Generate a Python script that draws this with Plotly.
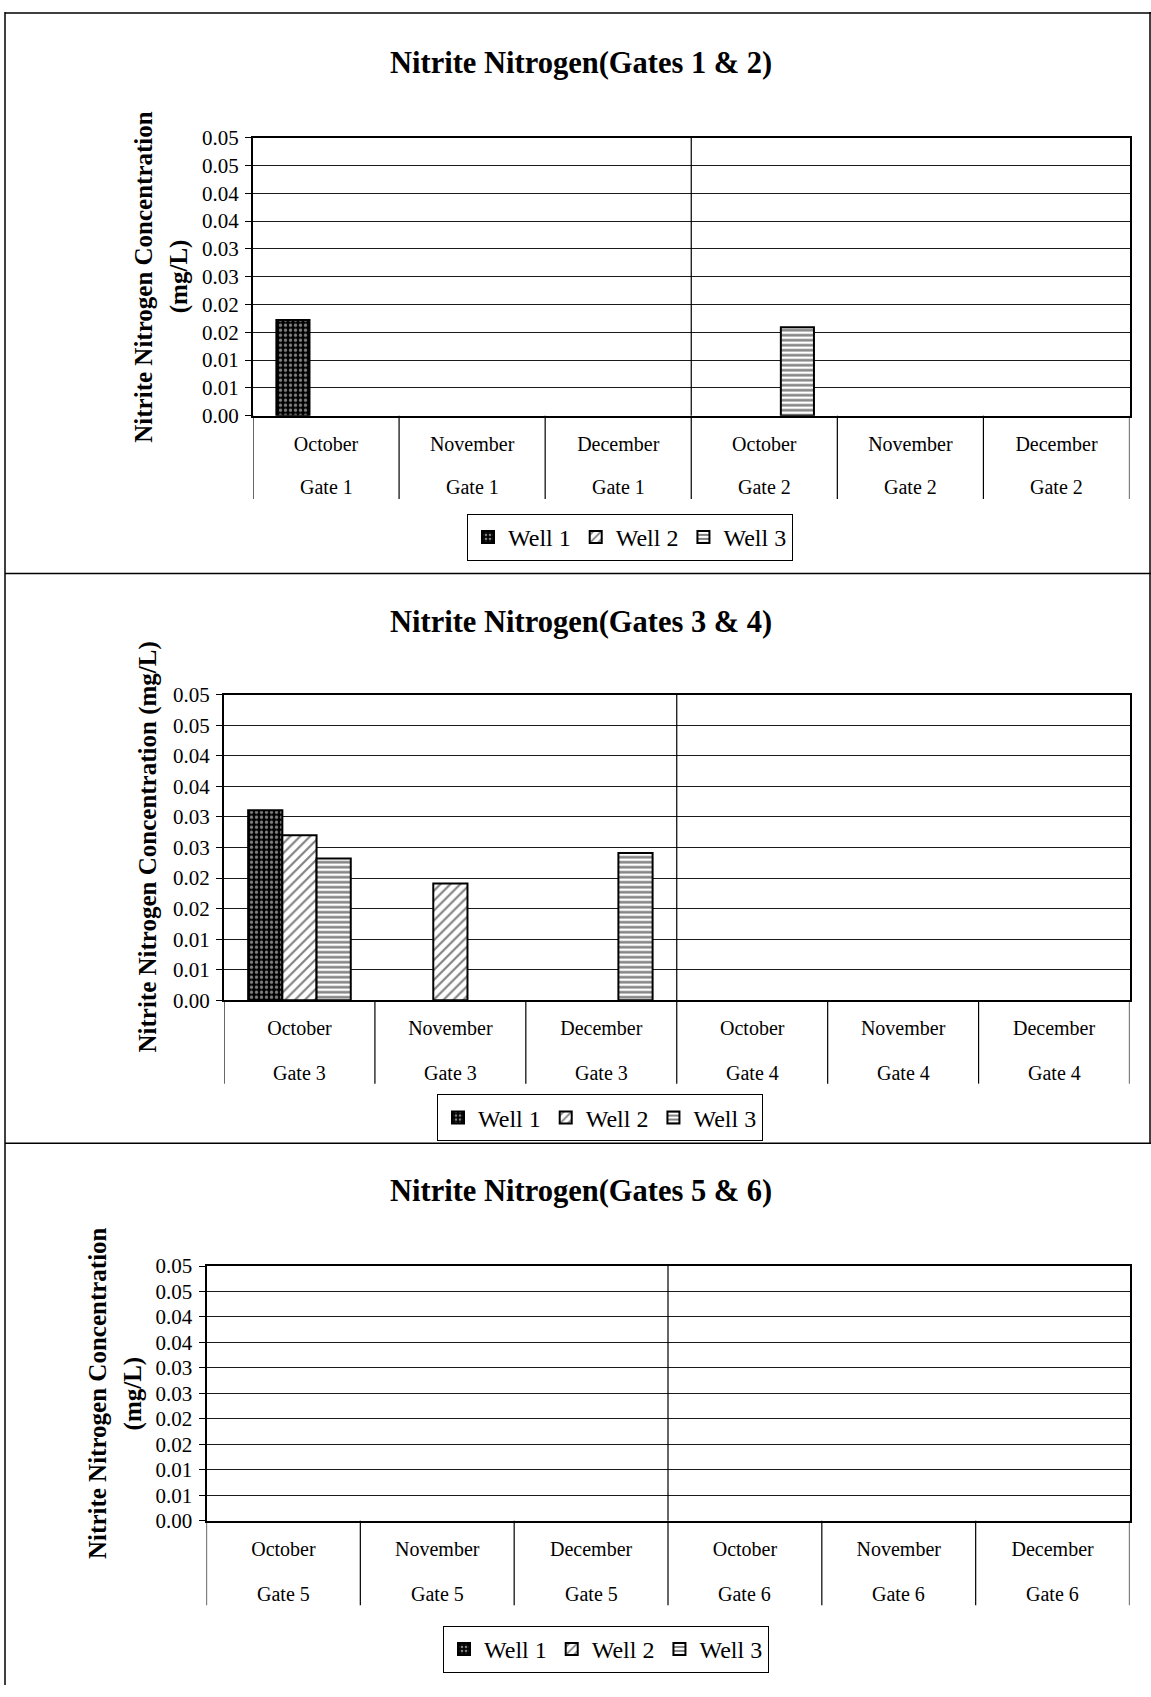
import plotly.graph_objects as go

W, H = 1151, 1697
FONT = "Times New Roman, Liberation Serif, serif"

months = ["October", "November", "December"]
wells = ["Well 1", "Well 2", "Well 3"]

# Nitrite nitrogen concentration (mg/L); None = no reading plotted
gates_12 = ["Gate 1", "Gate 2"]
well1_g12 = [0.0172, None, None, None, None, None]
well2_g12 = [None, None, None, None, None, None]
well3_g12 = [None, None, None, 0.0159, None, None]

gates_34 = ["Gate 3", "Gate 4"]
well1_g34 = [0.0311, None, None, None, None, None]
well2_g34 = [0.0270, 0.0191, None, None, None, None]
well3_g34 = [0.0232, None, 0.0241, None, None, None]

gates_56 = ["Gate 5", "Gate 6"]
well1_g56 = [None, None, None, None, None, None]
well2_g56 = [None, None, None, None, None, None]
well3_g56 = [None, None, None, None, None, None]

y_tick_vals = [0.0, 0.005, 0.01, 0.015, 0.02, 0.025, 0.03, 0.035, 0.04, 0.045, 0.05]
y_tick_text = ["0.00", "0.01", "0.01", "0.02", "0.02", "0.03", "0.03",
               "0.04", "0.04", "0.05", "0.05"]

titles = ["Nitrite Nitrogen(Gates 1 & 2)",
          "Nitrite Nitrogen(Gates 3 & 4)",
          "Nitrite Nitrogen(Gates 5 & 6)"]

# fill patterns for the three wells
patterns = [
    dict(shape=".", size=5, solidity=0.35, fgcolor="white", bgcolor="black"),
    dict(shape="/", size=7, solidity=0.3, fgcolor="black", bgcolor="white"),
    dict(shape="-", size=5, solidity=0.5, fgcolor="black", bgcolor="white"),
]

# page layout of each panel, in pixels
panels = [
    dict(gates=gates_12, data=[well1_g12, well2_g12, well3_g12],
         left=253, top=127.5, bottom=409.5, title_y=52,
         month_y=437, gate_y=482, sep_bottom=494,
         legend_x=467, legend_y=509,
         ytitle=["Nitrite Nitrogen Concentration", "(mg/L)"], ytitle_x=[144, 178.5]),
    dict(gates=gates_34, data=[well1_g34, well2_g34, well3_g34],
         left=224, top=692.5, bottom=1002.5, title_y=619,
         month_y=1031, gate_y=1076, sep_bottom=1087,
         legend_x=437, legend_y=1098,
         ytitle=["Nitrite Nitrogen Concentration (mg/L)"], ytitle_x=[148]),
    dict(gates=gates_56, data=[well1_g56, well2_g56, well3_g56],
         left=206.5, top=1272, bottom=1530.5, title_y=1196,
         month_y=1560, gate_y=1605, sep_bottom=1616,
         legend_x=443, legend_y=1637,
         ytitle=["Nitrite Nitrogen Concentration", "(mg/L)"], ytitle_x=[97.5, 133]),
]
RIGHT = 1129.5

fig = go.Figure()
shapes = []
annotations = []
layout = {}


def py(v):
    return 1 - v / H


for i, p in enumerate(panels):
    n = "" if i == 0 else str(i + 1)
    xa, ya = "x" + n, "y" + n
    leg = "legend" + n
    cats = [f"{m}, {g}" for g in p["gates"] for m in months]
    gate_labels = [g for g in p["gates"] for _ in months]

    for w, vals, pat in zip(wells, p["data"], patterns):
        fig.add_trace(go.Bar(
            x=cats, y=vals, name=w, xaxis=xa, yaxis=ya, legend=leg,
            marker=dict(color="white", pattern=pat,
                        line=dict(color="black", width=2)),
            hoverinfo="x+y+name",
        ))

    layout["xaxis" + n] = dict(
        domain=[p["left"] / W, RIGHT / W], anchor=ya,
        type="category", categoryorder="array", categoryarray=cats,
        range=[-0.5, 5.5], tickvals=cats, ticktext=months * 2,
        ticks="", ticklabelstandoff=9,
        tickfont=dict(family=FONT, size=20, color="black"),
        showline=True, mirror=True, linecolor="black", linewidth=2,
        showgrid=False, zeroline=False,
    )
    layout["yaxis" + n] = dict(
        domain=[py(p["bottom"]), py(p["top"])], anchor=xa,
        range=[0, 0.05], tickvals=y_tick_vals, ticktext=y_tick_text,
        ticks="outside", ticklen=6, tickcolor="black", ticklabelstandoff=2,
        tickfont=dict(family=FONT, size=21, color="black"),
        showline=True, mirror=True, linecolor="black", linewidth=2,
        showgrid=True, gridcolor="#1a1a1a", gridwidth=1, zeroline=False,
    )
    layout[leg] = dict(
        x=p["legend_x"] / W, y=py(p["legend_y"]), xanchor="left", yanchor="top",
        orientation="h", bordercolor="black", borderwidth=1, bgcolor="white",
        font=dict(family=FONT, size=24, color="black"),
        itemwidth=30, tracegroupgap=0,
    )

    # divider between the two gates inside the plot
    shapes.append(dict(type="line", xref=xa, yref=ya, x0=2.5, x1=2.5,
                       y0=0, y1=0.05, line=dict(color="black", width=1.2)))
    # category separators under the axis
    for k in range(7):
        shapes.append(dict(type="line", xref=xa, yref="paper",
                           x0=k - 0.5, x1=k - 0.5,
                           y0=py(p["sep_bottom"]), y1=py(p["bottom"]),
                           line=dict(color="black", width=1.2)))
    # gate row under the month labels
    for c, g in zip(cats, gate_labels):
        annotations.append(dict(
            xref=xa, yref="paper", x=c, y=py(p["gate_y"]),
            text=g, showarrow=False, xanchor="center", yanchor="middle",
            font=dict(family=FONT, size=20, color="black")))
    # chart title
    annotations.append(dict(
        xref="paper", yref="paper", x=581 / W, y=py(p["title_y"]),
        text=f"<b>{titles[i]}</b>", showarrow=False,
        xanchor="center", yanchor="middle",
        font=dict(family=FONT, size=30.5, color="black")))
    # y-axis title lines
    yc = (p["top"] + p["bottom"]) / 2
    for line_text, lx in zip(p["ytitle"], p["ytitle_x"]):
        annotations.append(dict(
            xref="paper", yref="paper", x=lx / W, y=py(yc),
            text=f"<b>{line_text}</b>", showarrow=False, textangle=-90,
            xanchor="center", yanchor="middle",
            font=dict(family=FONT, size=25, color="black")))

# page frame and panel separators
frame = dict(color="black", width=1.5)
shapes += [
    dict(type="line", xref="paper", yref="paper", x0=5 / W, x1=1, y0=py(1), y1=py(1), line=frame),
    dict(type="line", xref="paper", yref="paper", x0=5 / W, x1=1, y0=py(569.5), y1=py(569.5), line=frame),
    dict(type="line", xref="paper", yref="paper", x0=5 / W, x1=1, y0=py(1147.5), y1=py(1147.5), line=frame),
    dict(type="line", xref="paper", yref="paper", x0=5 / W, x1=5 / W, y0=0, y1=1, line=frame),
    dict(type="line", xref="paper", yref="paper", x0=1150 / W, x1=1150 / W, y0=py(1147.5), y1=1, line=frame),
]

fig.update_layout(
    width=W, height=H, margin=dict(l=0, r=0, t=0, b=0),
    paper_bgcolor="white", plot_bgcolor="white",
    barmode="group", bargap=0.32, bargroupgap=0,
    font=dict(family=FONT, color="black"),
    shapes=shapes, annotations=annotations,
    **layout,
)

fig.write_html("out.html")
